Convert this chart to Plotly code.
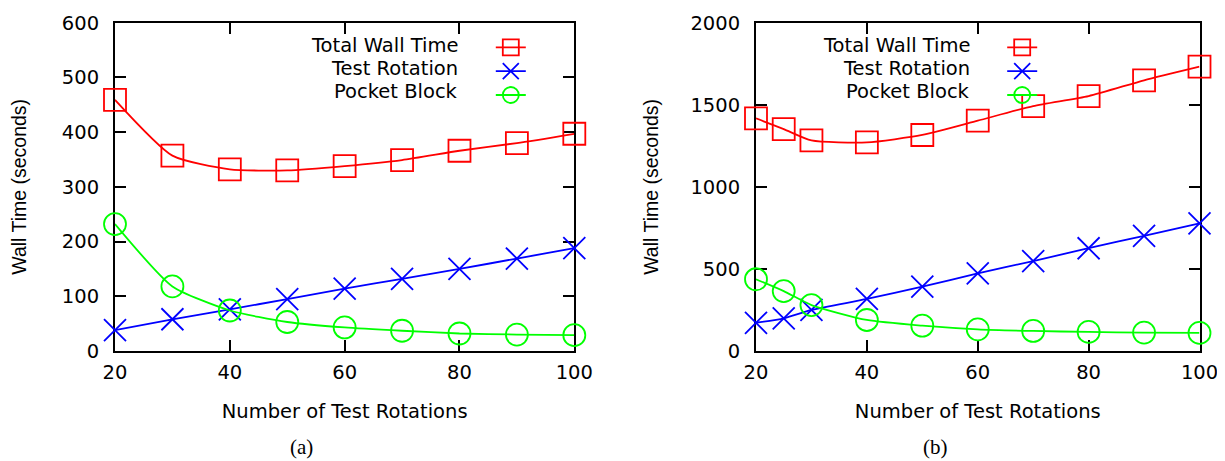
import plotly.graph_objects as go

# ---------------- data ----------------
x_a = [20, 30, 40, 50, 60, 70, 80, 90, 100]
total_a = [459, 357, 332, 330, 338, 349, 366, 380, 397]
test_a = [38, 58, 76, 95, 114, 132, 150, 169, 188]
pocket_a = [232, 118, 74, 53, 43, 37, 32, 30, 29]

x_b = [20, 25, 30, 40, 50, 60, 70, 80, 90, 100]
total_b = [1417, 1352, 1283, 1271, 1316, 1403, 1492, 1553, 1649, 1732]
test_b = [172, 199, 250, 317, 392, 473, 548, 626, 702, 778]
pocket_b = [437, 365, 280, 189, 154, 132, 122, 116, 112, 110]

series_names = ["Total Wall Time", "Test Rotation", "Pocket Block"]
x_ticks = [20, 40, 60, 80, 100]
y_ticks_a = [0, 100, 200, 300, 400, 500, 600]
y_ticks_b = [0, 500, 1000, 1500, 2000]
captions = ["(a)", "(b)"]
x_title = "Number of Test Rotations"
y_title = "Wall Time (seconds)"

# ---------------- styles ----------------
colors = ["#ff0000", "#0000ff", "#00ff00"]
symbols = ["square-open", "x-thin-open", "circle-open"]
PAGE_MARGIN = 8            # default body margin of the html page
W, H = 1225 - PAGE_MARGIN, 461 - PAGE_MARGIN
SANS = "DejaVu Sans"

fig = go.Figure()

panels = [
    (x_a, [total_a, test_a, pocket_a], "x", "y", "legend"),
    (x_b, [total_b, test_b, pocket_b], "x2", "y2", "legend2"),
]
for xs, ys_list, xa, ya, lg in panels:
    for name, ys, col, sym in zip(series_names, ys_list, colors, symbols):
        fig.add_trace(go.Scatter(
            x=xs, y=ys, xaxis=xa, yaxis=ya, legend=lg,
            mode="lines+markers", name="",
            hovertemplate=name + ": %{y}<extra></extra>",
            line=dict(color=col, width=1.8, shape="spline", smoothing=0.6),
            marker=dict(symbol=sym, size=22, color=col,
                        line=dict(color=col, width=1.8)),
            cliponaxis=False,
        ))

def px_x(p):
    return (p - PAGE_MARGIN) / W

def px_y(p):
    return 1 - (p - PAGE_MARGIN) / H

ydom = [px_y(351), px_y(22.7)]
axis_common = dict(
    showline=True, linecolor="black", linewidth=2, mirror="ticks",
    ticks="inside", ticklen=11, tickwidth=2, tickcolor="black",
    showgrid=False, zeroline=False, layer="below traces", automargin=False,
    tickfont=dict(family=SANS, size=19.5, color="black"),
)
xt_font = dict(family=SANS, size=19.5, color="black")
yt_font = dict(family="Liberation Sans", size=19.5, color="black")

fig.update_layout(
    width=W, height=H,
    margin=dict(l=0, r=0, t=0, b=0, autoexpand=False),
    paper_bgcolor="white", plot_bgcolor="white",
    xaxis=dict(domain=[px_x(115), px_x(574.3)], range=[20, 100],
               tickvals=x_ticks, anchor="y", ticklabelstandoff=3,
               title=dict(text=x_title, standoff=21, font=xt_font),
               **axis_common),
    yaxis=dict(domain=ydom, range=[0, 600], tickvals=y_ticks_a,
               anchor="x", ticklabelstandoff=10,
               title=dict(text=y_title, standoff=30, font=yt_font),
               **axis_common),
    xaxis2=dict(domain=[px_x(756), px_x(1199.5)], range=[20, 100],
                tickvals=x_ticks, anchor="y2", ticklabelstandoff=3,
                title=dict(text=x_title, standoff=21, font=xt_font),
                **axis_common),
    yaxis2=dict(domain=ydom, range=[0, 2000], tickvals=y_ticks_b,
                anchor="x2", ticklabelstandoff=10,
                title=dict(text=y_title, standoff=27, font=yt_font),
                **axis_common),
    legend=dict(x=px_x(490.8), y=px_y(30.5), xanchor="left", yanchor="top",
                bgcolor="rgba(0,0,0,0)", borderwidth=0,
                font=dict(family=SANS, size=16), tracegroupgap=0),
    legend2=dict(x=px_x(1002.2), y=px_y(30.5), xanchor="left", yanchor="top",
                 bgcolor="rgba(0,0,0,0)", borderwidth=0,
                 font=dict(family=SANS, size=16), tracegroupgap=0),
    showlegend=True,
)

# legend labels (text to the left of the keys, as in the original)
label_right = [460.2, 971.6]
row_y = [45.7, 68.3, 91.0]
for xr in label_right:
    for name, yy in zip(series_names, row_y):
        fig.add_annotation(x=px_x(xr), y=px_y(yy), xref="paper", yref="paper",
                           text=name, showarrow=False, xanchor="right",
                           yanchor="middle",
                           font=dict(family=SANS, size=19.5, color="black"))

# captions
for cap, cx in zip(captions, [301, 935]):
    fig.add_annotation(x=px_x(cx), y=px_y(447), xref="paper", yref="paper",
                       text=cap, showarrow=False, xanchor="center", yanchor="middle",
                       font=dict(family="Liberation Serif", size=21, color="black"))

fig.write_html("out.html")
